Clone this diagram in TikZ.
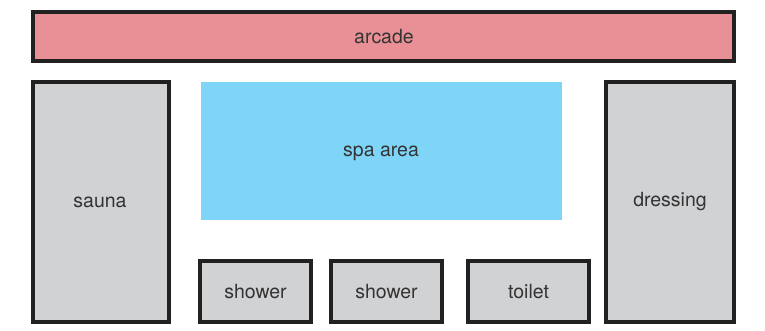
\documentclass[tikz,border=0pt]{standalone}
\usepackage{fontspec}
\setmainfont{TeX Gyre Heros}
\begin{document}
\begin{tikzpicture}[x=1pt,y=-1pt,
  room/.style={draw=black!87,line width=3.5pt,fill=roomgray},
  lbl/.style={anchor=base,inner sep=0pt,text=black!80,font=\fontsize{19.5}{22}\selectfont}]
\definecolor{roomgray}{HTML}{D1D2D4}
\definecolor{arcadecol}{HTML}{E89095}
\definecolor{spacol}{HTML}{7FD5F7}
\useasboundingbox (0,0) rectangle (765,331);
\draw[room,fill=arcadecol] (33,12) rectangle (734,61);
\node[lbl] (arcade) at (384,44) {arcade};
\draw[room] (33,82) rectangle (169,322);
\node[lbl] (sauna) at (100,207.5) {sauna};
\fill[spacol] (201,82) rectangle (562,220);
\node[lbl] (spa) at (381,157) {spa area};
\draw[room] (606,82) rectangle (734,322);
\node[lbl] (dressing) at (670,207) {dressing};
\draw[room] (200,261) rectangle (311,322);
\node[lbl] (sh1) at (255.5,298.5) {shower};
\draw[room] (331,261) rectangle (442,322);
\node[lbl] (sh2) at (386.5,298.5) {shower};
\draw[room] (468,261) rectangle (589,322);
\node[lbl] (toilet) at (528.5,298.5) {toilet};
\end{tikzpicture}
\end{document}
